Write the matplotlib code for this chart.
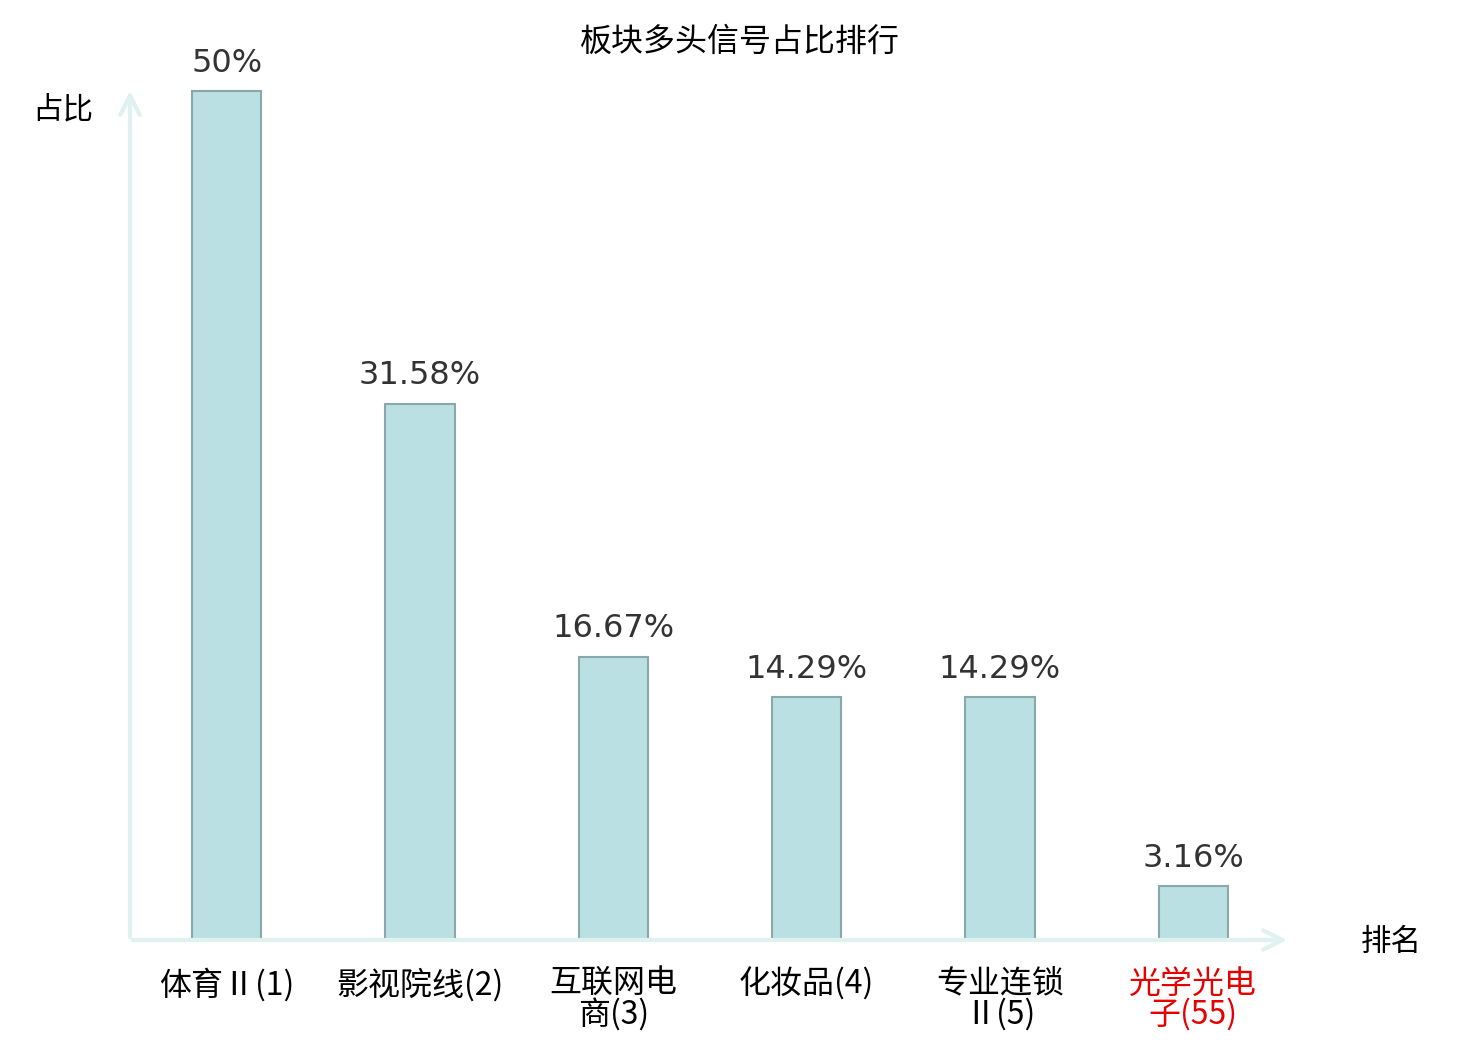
import numpy as np
import matplotlib.pyplot as plt

plt.rcParams['font.family'] = ['Noto Sans CJK SC', 'DejaVu Sans']

categories = ["体育Ⅱ(1)", "影视院线(2)", "互联网电\n商(3)", "化妆品(4)", "专业连锁\nⅡ(5)", "光学光电\n子(55)"]
values = [50, 31.58, 16.67, 14.29, 14.29, 3.16]
value_labels = ["50%", "31.58%", "16.67%", "14.29%", "14.29%", "3.16%"]
label_colors = ["black", "black", "black", "black", "black", "#e60000"]

fig = plt.figure(figsize=(14.8, 10.4), dpi=100)
ax = fig.add_axes([130 / 1480, 1 - 940 / 1040, 1160 / 1480, 852 / 1040])

x = np.arange(len(categories))
ax.bar(x, values, width=0.36, color="#bbe0e3", edgecolor="#8aa8aa", linewidth=1.5, zorder=3)

for xi, v, lab in zip(x, values, value_labels):
    ax.text(xi, v + 0.75, lab, ha="center", va="bottom", fontsize=23,
            color="#333333", family="DejaVu Sans")

ax.set_xlim(-0.5, 5.5)
ax.set_ylim(0, 50.2)
for s in ax.spines.values():
    s.set_visible(False)
ax.set_yticks([])
ax.set_xticks(x)
ax.set_xticklabels(categories, fontsize=23, linespacing=0.92)
ax.tick_params(axis="x", length=0, pad=20)
for t, c in zip(ax.get_xticklabels(), label_colors):
    t.set_color(c)
    t.set_verticalalignment("top")

# axis arrows
arrow_kw = dict(arrowstyle="->,head_length=1.4,head_width=0.7", color="#dff2ef", lw=3)
ax.annotate("", xy=(1.0, 0), xytext=(0, 0), xycoords="axes fraction",
            arrowprops=arrow_kw, annotation_clip=False)
ax.annotate("", xy=(0, 1.0), xytext=(0, 0), xycoords="axes fraction",
            arrowprops=arrow_kw, annotation_clip=False)

fig.text(63 / 1480, 1 - 110 / 1040, "占比", ha="center", va="center", fontsize=22)
fig.text(1391 / 1480, 1 - 942 / 1040, "排名", ha="center", va="center", fontsize=22)
fig.text(740 / 1480, 1 - 42 / 1040, "板块多头信号占比排行", ha="center", va="center", fontsize=23)

fig.savefig("out.png", dpi=100)
